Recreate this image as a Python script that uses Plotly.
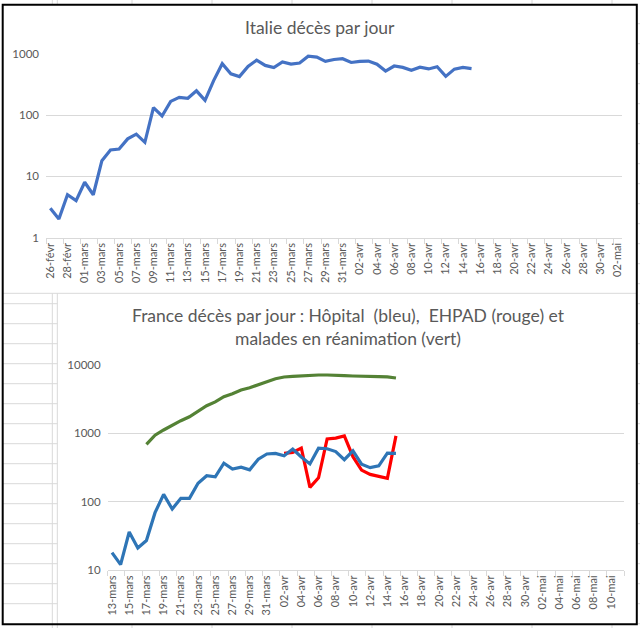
import plotly.graph_objects as go

# ---------------- data ----------------
def date_labels(spec):
    return [f"{d:02d}-{m}" for m, a, b in spec for d in range(a, b + 1)]

italy_dates = date_labels([("févr", 26, 29), ("mars", 1, 31), ("avr", 1, 30), ("mai", 1, 2)])
italy_deaths = [3, 2, 5, 4, 8, 5, 18, 27, 28, 41, 49, 36, 133, 97, 168, 196, 189, 250, 175,
                368, 694, 475, 427, 627, 793, 651, 601, 743, 683, 712, 919, 889, 756, 812,
                837, 727, 760, 766, 681, 525, 636, 604, 542, 610, 570, 619, 431, 566, 602, 578]

france_dates = date_labels([("mars", 13, 31), ("avr", 1, 30), ("mai", 1, 11)])
# hospital deaths from 13-mars
france_hopital = [18, 12, 36, 21, 27, 69, 128, 78, 112, 112, 186, 240, 231, 365, 299, 319, 292,
                  418, 499, 509, 471, 588, 450, 357, 605, 595, 541, 412, 554, 353, 315, 335, 514, 509]
# EHPAD deaths from 02-avr
france_ehpad_start = "02-avr"
france_ehpad = [509, 526, 610, 162, 224, 826, 850, 915, 455, 290, 251, 236, 219, 920]
# ICU patients from 17-mars
france_rea_start = "17-mars"
france_rea = [690, 940, 1120, 1320, 1530, 1750, 2120, 2540, 2880, 3440, 3800, 4300, 4650, 5200,
              5700, 6300, 6670, 6820, 6980, 7060, 7140, 7140, 7140, 6980, 6900, 6900, 6880, 6740,
              6700, 6460]

italy_ticks = [1, 10, 100, 1000]
france_ticks = [10, 100, 1000, 10000]


def pad(values, cats, start=None):
    i0 = cats.index(start) if start else 0
    return [None] * i0 + values + [None] * (len(cats) - i0 - len(values))


W, H = 640, 628
TXT = "#595959"
GRID = "#D9D9D9"


def px(x):
    return x / W


def py(y):
    return 1 - y / H


fig = go.Figure()
fig.add_trace(go.Scatter(x=italy_dates, y=pad(italy_deaths, italy_dates), mode="lines",
                         line=dict(color="#4472C4", width=3.2), xaxis="x", yaxis="y",
                         hoverinfo="skip"))
fig.add_trace(go.Scatter(x=france_dates, y=pad(france_rea, france_dates, france_rea_start),
                         mode="lines", line=dict(color="#548235", width=3.2),
                         xaxis="x2", yaxis="y2", hoverinfo="skip"))
fig.add_trace(go.Scatter(x=france_dates, y=pad(france_ehpad, france_dates, france_ehpad_start),
                         mode="lines", line=dict(color="#FF0000", width=3.2),
                         xaxis="x2", yaxis="y2", hoverinfo="skip"))
fig.add_trace(go.Scatter(x=france_dates, y=pad(france_hopital, france_dates), mode="lines",
                         line=dict(color="#2E75B6", width=3.2), xaxis="x2", yaxis="y2",
                         hoverinfo="skip"))

xcommon = dict(type="category", tickangle=-90, dtick=2, tick0=0, tickson="boundaries",
               ticks="outside", ticklen=5, tickcolor=GRID, showline=True, linecolor=GRID,
               linewidth=1, showgrid=False, zeroline=False, fixedrange=True, automargin=False,
               tickfont=dict(size=11, color=TXT, family="Lato"))
ycommon = dict(type="log", showgrid=True, gridcolor=GRID, gridwidth=1, zeroline=False,
               showline=False, ticks="", fixedrange=True, ticklabelstandoff=6, automargin=False,
               tickfont=dict(size=11.5, color=TXT, family="Lato"))

fig.update_layout(
    width=W, height=H, margin=dict(l=0, r=0, t=0, b=0, pad=0), autosize=False,
    paper_bgcolor="white", plot_bgcolor="rgba(0,0,0,0)", showlegend=False,
    xaxis=dict(xcommon, domain=[px(46), px(622)], anchor="y",
               categoryorder="array", categoryarray=italy_dates, range=[-0.5, len(italy_dates) - 0.5]),
    yaxis=dict(ycommon, domain=[py(237.5), py(54)], anchor="x", range=[0, 3],
               tickvals=italy_ticks, ticktext=[str(v) for v in italy_ticks]),
    xaxis2=dict(xcommon, domain=[px(107.7), px(624)], anchor="y2",
                categoryorder="array", categoryarray=france_dates, range=[-0.5, len(france_dates) - 0.5]),
    yaxis2=dict(ycommon, domain=[py(570), py(365)], anchor="x2", range=[1, 4],
                tickvals=france_ticks, ticktext=[str(v) for v in france_ticks]),
)

fig.add_annotation(text="Italie décès par jour", x=px(320), y=py(28), xref="paper", yref="paper",
                   showarrow=False, xanchor="center", yanchor="middle",
                   font=dict(size=17.5, color=TXT, family="Lato"))
fig.add_annotation(text="France décès par jour : Hôpital\u00a0 (bleu),\u00a0 EHPAD (rouge) et<br>"
                        "malades en réanimation (vert)",
                   x=px(348), y=py(327), xref="paper", yref="paper", showarrow=False,
                   xanchor="center", yanchor="middle",
                   font=dict(size=17.5, color=TXT, family="Lato"))

shapes = []
cell = dict(type="line", xref="paper", yref="paper", line=dict(color=GRID, width=1), layer="below")
# spreadsheet cells: above and below the charts
for cx in [52.3, 57.3, 132, 212, 292, 372, 452, 532, 612]:
    shapes.append(dict(cell, x0=px(cx), x1=px(cx), y0=py(0), y1=py(4)))
    shapes.append(dict(cell, x0=px(cx), x1=px(cx), y0=py(625), y1=py(628)))
# left strip cells beside bottom chart
for k in range(15, 31):
    ry = 3.7 + 20 * k
    shapes.append(dict(cell, x0=px(3), x1=px(57.3), y0=py(ry), y1=py(ry)))
shapes.append(dict(cell, x0=px(52.3), x1=px(52.3), y0=py(293.3), y1=py(624)))
# right strip cells
for k in range(1, 32):
    ry = 3.7 + 20 * k
    shapes.append(dict(cell, x0=px(637.5), x1=px(640), y0=py(ry), y1=py(ry)))
# bottom chart borders
shapes.append(dict(cell, x0=px(3), x1=px(636), y0=py(293.3), y1=py(293.3)))
shapes.append(dict(cell, x0=px(57.3), x1=px(57.3), y0=py(293.3), y1=py(624)))
# black outer frame
shapes.append(dict(type="rect", xref="paper", yref="paper", x0=px(2.7), x1=px(636.8),
                   y0=py(624.3), y1=py(4.8), line=dict(color="black", width=2),
                   fillcolor="rgba(0,0,0,0)", layer="above"))
fig.update_layout(shapes=shapes)

fig.write_html("out.html", config={"displayModeBar": False},
               post_script="document.body.style.margin='0';document.body.style.overflow='hidden';")
